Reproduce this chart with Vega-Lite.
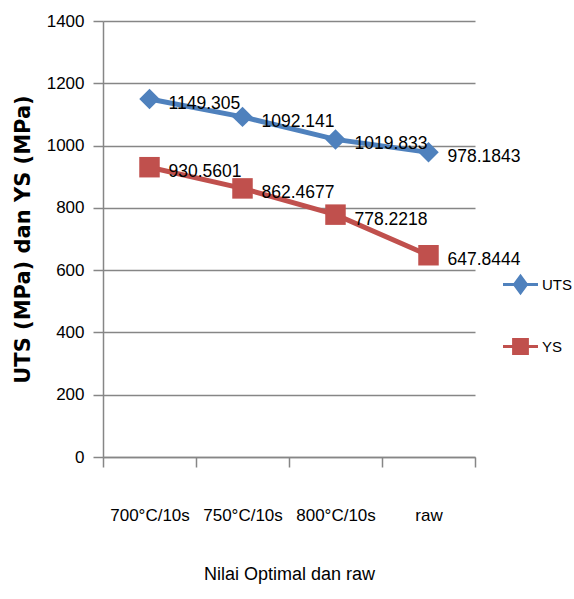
{
  "$schema": "https://vega.github.io/schema/vega-lite/v6.json",
  "autosize": "none",
  "width": 372,
  "height": 436,
  "padding": {"left": 103, "top": 21, "right": 99, "bottom": 142},
  "background": "white",
  "config": {
    "view": {"stroke": null},
    "font": "Liberation Sans, Arial, sans-serif"
  },
  "data": {
    "values": [
      {"kondisi": "700°C/10s", "seri": "UTS", "nilai": 1149.305},
      {"kondisi": "750°C/10s", "seri": "UTS", "nilai": 1092.141},
      {"kondisi": "800°C/10s", "seri": "UTS", "nilai": 1019.833},
      {"kondisi": "raw", "seri": "UTS", "nilai": 978.1843},
      {"kondisi": "700°C/10s", "seri": "YS", "nilai": 930.5601},
      {"kondisi": "750°C/10s", "seri": "YS", "nilai": 862.4677},
      {"kondisi": "800°C/10s", "seri": "YS", "nilai": 778.2218},
      {"kondisi": "raw", "seri": "YS", "nilai": 647.8444}
    ]
  },
  "encoding": {
    "x": {
      "field": "kondisi",
      "type": "nominal",
      "sort": null,
      "bandPosition": 0.5,
      "scale": {"type": "band", "paddingInner": 0, "paddingOuter": 0},
      "axis": {
        "title": "Nilai Optimal dan raw",
        "labelAngle": 0,
        "labelFontSize": 17,
        "labelColor": "#000000",
        "labelPadding": 40,
        "tickBand": "extent",
        "tickSize": 10,
        "tickColor": "#868686",
        "tickWidth": 1.5,
        "domainColor": "#868686",
        "domainWidth": 1.5,
        "grid": false,
        "titleFontSize": 18,
        "titleFontWeight": "normal",
        "titleColor": "#000000",
        "titlePadding": 42
      }
    },
    "y": {
      "field": "nilai",
      "type": "quantitative",
      "scale": {"domain": [0, 1400]},
      "axis": {
        "title": "UTS (MPa) dan  YS (MPa)",
        "values": [0, 200, 400, 600, 800, 1000, 1200, 1400],
        "format": "d",
        "labelFontSize": 17,
        "labelColor": "#000000",
        "labelPadding": 9,
        "tickSize": 10,
        "tickColor": "#868686",
        "tickWidth": 1.5,
        "domainColor": "#868686",
        "domainWidth": 1.5,
        "gridColor": "#868686",
        "gridWidth": 1.5,
        "titleFont": "DejaVu Sans",
        "titleFontSize": 21,
        "titleFontWeight": "bold",
        "titleColor": "#000000",
        "titlePadding": 13
      }
    },
    "color": {
      "field": "seri",
      "type": "nominal",
      "scale": {"domain": ["UTS", "YS"], "range": ["#4F81BD", "#C0504D"]},
      "legend": {
        "title": null,
        "orient": "none",
        "legendX": 400,
        "legendY": 246,
        "symbolSize": 1225,
        "symbolStrokeWidth": 0,
        "symbolOpacity": 1,
        "labelFontSize": 15,
        "labelColor": "#000000",
        "labelOffset": 4,
        "rowPadding": 33,
        "encode": {
          "symbols": {
            "update": {
              "shape": {"signal": "datum.value === 'UTS' ? 'M-1,-0.09H1V0.09H-1Z M0,-0.62L0.45,0L0,0.62L-0.45,0Z' : 'M-1,-0.09H1V0.09H-1Z M-0.48,-0.48H0.48V0.48H-0.48Z'"},
              "fill": {"signal": "datum.value === 'UTS' ? '#4F81BD' : '#C0504D'"},
              "strokeWidth": {"value": 0}
            }
          }
        }
      }
    }
  },
  "layer": [
    {
      "mark": {"type": "line", "strokeWidth": 5}
    },
    {
      "transform": [{"filter": "datum.seri === 'UTS'"}],
      "mark": {"type": "point", "filled": true, "opacity": 1, "size": 420, "shape": "diamond"}
    },
    {
      "transform": [{"filter": "datum.seri === 'YS'"}],
      "mark": {"type": "point", "filled": true, "opacity": 1, "size": 420, "shape": "square"}
    },
    {
      "mark": {"type": "text", "align": "left", "baseline": "middle", "dx": 19, "dy": 5, "fontSize": 17.5, "color": "#000000"},
      "encoding": {
        "text": {"field": "nilai", "type": "nominal"},
        "color": {"value": "#000000"}
      }
    }
  ]
}
